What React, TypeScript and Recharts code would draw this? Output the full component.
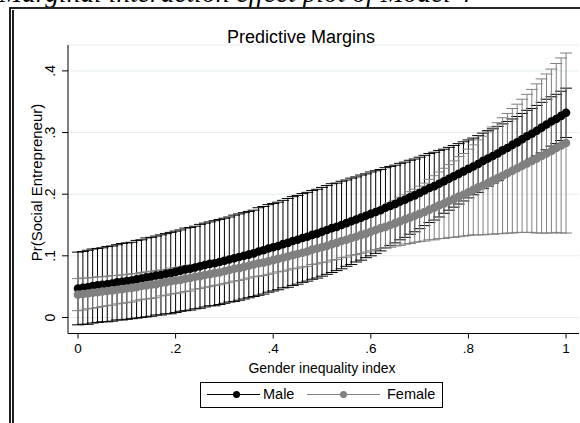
import { LineChart, Line, XAxis, YAxis, CartesianGrid, ErrorBar } from 'recharts';

// gender inequality index grid used by margins, at(gii=(0(.01)1))
const gii = [
  0, 0.01, 0.02, 0.03, 0.04, 0.05, 0.06, 0.07, 0.08, 0.09,
  0.1, 0.11, 0.12, 0.13, 0.14, 0.15, 0.16, 0.17, 0.18, 0.19,
  0.2, 0.21, 0.22, 0.23, 0.24, 0.25, 0.26, 0.27, 0.28, 0.29,
  0.3, 0.31, 0.32, 0.33, 0.34, 0.35, 0.36, 0.37, 0.38, 0.39,
  0.4, 0.41, 0.42, 0.43, 0.44, 0.45, 0.46, 0.47, 0.48, 0.49,
  0.5, 0.51, 0.52, 0.53, 0.54, 0.55, 0.56, 0.57, 0.58, 0.59,
  0.6, 0.61, 0.62, 0.63, 0.64, 0.65, 0.66, 0.67, 0.68, 0.69,
  0.7, 0.71, 0.72, 0.73, 0.74, 0.75, 0.76, 0.77, 0.78, 0.79,
  0.8, 0.81, 0.82, 0.83, 0.84, 0.85, 0.86, 0.87, 0.88, 0.89,
  0.9, 0.91, 0.92, 0.93, 0.94, 0.95, 0.96, 0.97, 0.98, 0.99,
  1,
];

// predicted Pr(Social Entrepreneur), male
const maleMargin = [
  0.047, 0.048, 0.049, 0.051, 0.052, 0.053, 0.054, 0.055, 0.057, 0.058,
  0.059, 0.060, 0.062, 0.063, 0.065, 0.066, 0.068, 0.069, 0.071, 0.072,
  0.074, 0.076, 0.078, 0.079, 0.081, 0.083, 0.085, 0.087, 0.088, 0.090,
  0.092, 0.094, 0.096, 0.098, 0.100, 0.102, 0.104, 0.107, 0.109, 0.112,
  0.114, 0.116, 0.119, 0.121, 0.124, 0.126, 0.129, 0.131, 0.134, 0.136,
  0.139, 0.142, 0.145, 0.147, 0.150, 0.153, 0.156, 0.159, 0.162, 0.165,
  0.168, 0.171, 0.174, 0.178, 0.181, 0.184, 0.188, 0.191, 0.195, 0.198,
  0.202, 0.206, 0.210, 0.213, 0.217, 0.221, 0.225, 0.229, 0.233, 0.237,
  0.241, 0.245, 0.249, 0.254, 0.258, 0.262, 0.266, 0.271, 0.275, 0.280,
  0.284, 0.289, 0.294, 0.298, 0.303, 0.308, 0.313, 0.318, 0.322, 0.327,
  0.332,
];

// half width of the 95% CI, male
const maleCi = [
  0.059, 0.059, 0.060, 0.060, 0.060, 0.060, 0.061, 0.061, 0.061, 0.062,
  0.062, 0.062, 0.063, 0.063, 0.064, 0.064, 0.064, 0.065, 0.065, 0.066,
  0.066, 0.066, 0.067, 0.067, 0.067, 0.068, 0.068, 0.068, 0.069, 0.069,
  0.069, 0.069, 0.070, 0.070, 0.070, 0.070, 0.070, 0.071, 0.071, 0.071,
  0.071, 0.071, 0.071, 0.072, 0.072, 0.072, 0.072, 0.072, 0.072, 0.072,
  0.072, 0.072, 0.072, 0.071, 0.071, 0.070, 0.070, 0.069, 0.069, 0.068,
  0.068, 0.067, 0.066, 0.065, 0.064, 0.063, 0.062, 0.061, 0.060, 0.059,
  0.058, 0.057, 0.056, 0.055, 0.054, 0.052, 0.051, 0.050, 0.049, 0.048,
  0.047, 0.046, 0.046, 0.045, 0.045, 0.044, 0.044, 0.043, 0.043, 0.042,
  0.042, 0.042, 0.042, 0.041, 0.041, 0.041, 0.041, 0.040, 0.040, 0.040,
  0.040,
];

// predicted Pr(Social Entrepreneur), female
const femaleMargin = [
  0.037, 0.038, 0.039, 0.040, 0.041, 0.042, 0.043, 0.044, 0.045, 0.046,
  0.047, 0.048, 0.049, 0.051, 0.052, 0.053, 0.054, 0.056, 0.057, 0.059,
  0.060, 0.061, 0.063, 0.064, 0.066, 0.067, 0.069, 0.070, 0.072, 0.073,
  0.075, 0.077, 0.079, 0.080, 0.082, 0.084, 0.086, 0.088, 0.089, 0.091,
  0.093, 0.095, 0.097, 0.099, 0.101, 0.103, 0.105, 0.107, 0.110, 0.112,
  0.114, 0.116, 0.119, 0.121, 0.124, 0.126, 0.129, 0.131, 0.134, 0.136,
  0.139, 0.142, 0.145, 0.147, 0.150, 0.153, 0.156, 0.159, 0.162, 0.165,
  0.168, 0.171, 0.175, 0.178, 0.182, 0.185, 0.189, 0.192, 0.196, 0.199,
  0.203, 0.207, 0.211, 0.214, 0.218, 0.222, 0.226, 0.230, 0.234, 0.238,
  0.242, 0.246, 0.250, 0.254, 0.258, 0.262, 0.266, 0.270, 0.275, 0.279,
  0.283,
];

// half width of the 95% CI, female
const femaleCi = [
  0.026, 0.026, 0.025, 0.025, 0.025, 0.024, 0.024, 0.024, 0.023, 0.023,
  0.023, 0.023, 0.022, 0.022, 0.022, 0.022, 0.022, 0.021, 0.021, 0.021,
  0.021, 0.021, 0.021, 0.021, 0.020, 0.020, 0.020, 0.020, 0.020, 0.020,
  0.020, 0.020, 0.020, 0.020, 0.020, 0.020, 0.020, 0.021, 0.021, 0.021,
  0.021, 0.021, 0.022, 0.022, 0.022, 0.023, 0.023, 0.024, 0.024, 0.025,
  0.025, 0.026, 0.026, 0.027, 0.027, 0.028, 0.028, 0.029, 0.030, 0.030,
  0.031, 0.032, 0.033, 0.034, 0.036, 0.037, 0.039, 0.040, 0.042, 0.043,
  0.045, 0.047, 0.049, 0.052, 0.054, 0.057, 0.059, 0.062, 0.065, 0.067,
  0.070, 0.073, 0.077, 0.080, 0.083, 0.087, 0.090, 0.094, 0.097, 0.101,
  0.104, 0.108, 0.112, 0.116, 0.121, 0.125, 0.129, 0.133, 0.137, 0.142,
  0.146,
];

const xTicks = [0, 0.2, 0.4, 0.6, 0.8, 1];
const yTicks = [0, 0.1, 0.2, 0.3, 0.4];

const rows = gii.map((g, i) => ({
  gii: g,
  male: maleMargin[i],
  maleCi: maleCi[i],
  female: femaleMargin[i],
  femaleCi: femaleCi[i],
}));

const FONT = '"Liberation Sans", Arial, Helvetica, sans-serif';
const GRAY = '#808080';

// stata style labels: ".2" instead of "0.2"
const fmt = (v: number) => (v === 0 || v === 1 ? String(v) : String(v).replace(/^0/, ''));

// vertical tick labels, reading bottom to top
function YTick(props: any) {
  const { y, payload } = props;
  const x = 55.5;
  return (
    <text
      x={x}
      y={y}
      transform={`rotate(-90 ${x} ${y})`}
      textAnchor="middle"
      fill="#000"
      fontSize={14}
      fontFamily={FONT}
    >
      {fmt(payload.value)}
    </text>
  );
}

export default function App() {
  return (
    <div
      style={{
        position: 'absolute',
        left: 0,
        top: 0,
        width: 580,
        height: 423,
        overflow: 'hidden',
        background: '#fff',
        fontFamily: FONT,
        color: '#000',
      }}
    >
      {/* caption from the paper, mostly cut off */}
      <div
        style={{
          position: 'absolute',
          left: -1,
          top: -21.3,
          fontFamily: '"Liberation Serif", "Times New Roman", serif',
          fontStyle: 'italic',
          fontSize: 27.5,
          lineHeight: 1,
          whiteSpace: 'nowrap',
        }}
      >
        Marginal interaction effect plot of Model 4
      </div>

      {/* table borders of the page */}
      <div style={{ position: 'absolute', left: 9, top: 7, width: 571, height: 2, background: '#222' }} />
      <div style={{ position: 'absolute', left: 9, top: 7, width: 2, height: 416, background: '#222' }} />
      <div style={{ position: 'absolute', left: 12, top: 10, width: 2, height: 413, background: '#222' }} />

      <div style={{ position: 'absolute', left: 0, top: 0 }}>
        <LineChart width={580} height={423} data={rows} margin={{ top: 45, right: 1, bottom: 59.5, left: 8 }}>
          <CartesianGrid vertical={false} stroke="#e4ecee" />
          <XAxis
            dataKey="gii"
            type="number"
            domain={[-0.0205, 1.0266]}
            ticks={xTicks}
            allowDataOverflow
            height={30}
            tickSize={5}
            tickMargin={5}
            tickFormatter={fmt}
            axisLine={{ stroke: '#000' }}
            tickLine={{ stroke: '#000' }}
            tick={{ fill: '#000', fontSize: 13.5, fontFamily: FONT }}
          />
          <YAxis
            type="number"
            domain={[-0.026, 0.442]}
            ticks={yTicks}
            allowDataOverflow
            width={60}
            interval={0}
            tickSize={6}
            tickMargin={7}
            axisLine={{ stroke: '#000' }}
            tickLine={{ stroke: '#000' }}
            tick={(p: any) => <YTick {...p} />}
          />

          {/* confidence intervals behind the point estimates */}
          <Line dataKey="male" stroke="none" dot={false} activeDot={false} legendType="none" isAnimationActive={false}>
            <ErrorBar dataKey="maleCi" width={6} stroke="#000" strokeWidth={1} direction="y" isAnimationActive={false} />
          </Line>
          <Line dataKey="female" stroke="none" dot={false} activeDot={false} legendType="none" isAnimationActive={false}>
            <ErrorBar dataKey="femaleCi" width={6} stroke={GRAY} strokeWidth={1} direction="y" isAnimationActive={false} />
          </Line>

          <Line
            dataKey="male"
            stroke="#000"
            strokeWidth={1.5}
            dot={{ r: 4.3, fill: '#000', stroke: 'none' }}
            activeDot={false}
            isAnimationActive={false}
          />
          <Line
            dataKey="female"
            stroke={GRAY}
            strokeWidth={1.5}
            dot={{ r: 4.3, fill: GRAY, stroke: 'none' }}
            activeDot={false}
            isAnimationActive={false}
          />
        </LineChart>
      </div>

      {/* titles */}
      <div
        style={{
          position: 'absolute',
          left: 176,
          width: 250,
          top: 27.6,
          textAlign: 'center',
          fontSize: 18,
          lineHeight: 1,
        }}
      >
        Predictive Margins
      </div>
      <div
        style={{
          position: 'absolute',
          left: 197,
          width: 250,
          top: 360.9,
          textAlign: 'center',
          fontSize: 14,
          lineHeight: 1,
        }}
      >
        Gender inequality index
      </div>
      <div
        style={{
          position: 'absolute',
          left: 35.5 - 100,
          top: 182 - 7.5,
          width: 200,
          height: 15,
          textAlign: 'center',
          fontSize: 15,
          lineHeight: 1,
          transform: 'rotate(-90deg)',
          whiteSpace: 'nowrap',
        }}
      >
        Pr(Social Entrepreneur)
      </div>

      {/* legend */}
      <div
        style={{
          position: 'absolute',
          left: 200,
          top: 382,
          width: 243,
          height: 26,
          boxSizing: 'border-box',
          border: '1px solid #000',
        }}
      />
      <div style={{ position: 'absolute', left: 207, top: 393.5, width: 53, height: 1, background: '#000' }} />
      <div
        style={{ position: 'absolute', left: 232.5, top: 390.5, width: 7, height: 7, borderRadius: '50%', background: '#000' }}
      />
      <div style={{ position: 'absolute', left: 263, top: 387.2, fontSize: 14.5, lineHeight: 1 }}>Male</div>
      <div style={{ position: 'absolute', left: 307, top: 393.5, width: 73, height: 1, background: GRAY }} />
      <div
        style={{ position: 'absolute', left: 340, top: 390.5, width: 7, height: 7, borderRadius: '50%', background: GRAY }}
      />
      <div style={{ position: 'absolute', left: 387, top: 387.2, fontSize: 14.5, lineHeight: 1 }}>Female</div>
    </div>
  );
}
